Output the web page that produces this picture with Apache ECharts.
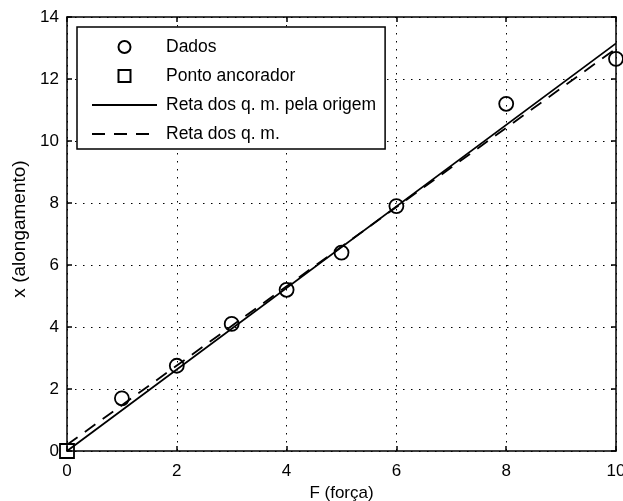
<!DOCTYPE html>
<html>
<head>
<meta charset="utf-8">
<script src="https://cdn.jsdelivr.net/npm/echarts@6/dist/echarts.min.js"></script>
<style>
  html, body { margin: 0; padding: 0; background: #fff; }
  #chart { width: 623px; height: 501px; }
</style>
</head>
<body>
<div id="chart"></div>
<script>
// measured points
var forceValues = [1, 2, 3, 4, 5, 6, 8, 10];
var stretchValues = [1.7, 2.75, 4.1, 5.2, 6.4, 7.9, 11.2, 12.65];
var anchorPoint = [[0, 0]];
// fitted lines at both ends
var fitOriginLine = [[0, 0], [10, 13.15]];
var fitLine = [[0, 0.2], [10, 12.98]];
var xTicks = [0, 2, 4, 6, 8, 10];
var yTicks = [0, 2, 4, 6, 8, 10, 12, 14];

var FONT = 'Liberation Sans';
var FS = 17;
var dataPoints = forceValues.map(function (f, i) { return [f, stretchValues[i]]; });

var chart = echarts.init(document.getElementById('chart'));

var dotted = { show: true, lineStyle: { color: '#000', width: 1, type: [1.5, 6.5] } };
var frame = { show: true, onZero: false, lineStyle: { color: '#000', width: 1.5 } };
var ticks = { show: true, inside: true, length: 5, lineStyle: { color: '#000', width: 1.5 } };

chart.setOption({
  animation: false,
  backgroundColor: '#fff',
  textStyle: { fontFamily: FONT },
  grid: { left: 67, right: 7, top: 17, bottom: 50, containLabel: false, outerBoundsMode: 'none' },
  legend: {
    orient: 'vertical',
    left: 77, top: 27,
    backgroundColor: '#fff',
    borderColor: '#000',
    borderWidth: 1.5,
    borderRadius: 0,
    padding: [11, 9, 6, 14],
    itemWidth: 65,
    itemHeight: 15,
    itemGap: 11,
    textStyle: { fontFamily: FONT, fontSize: 17.5, lineHeight: 18, color: '#000', padding: [0, 0, 0, 4] },
    data: [
      'Dados',
      'Ponto ancorador',
      { name: 'Reta dos q. m. pela origem', itemStyle: { opacity: 0 } },
      { name: 'Reta dos q. m.', itemStyle: { opacity: 0 } }
    ]
  },
  xAxis: [{
    type: 'value', min: 0, max: 10, interval: 2,
    name: 'F (força)', nameLocation: 'middle', nameGap: 33,
    nameTextStyle: { fontFamily: FONT, fontSize: FS, color: '#000' },
    axisLine: frame, axisTick: ticks,
    axisLabel: { fontFamily: FONT, fontSize: FS, color: '#000', margin: 12 },
    splitLine: dotted
  }, {
    type: 'value', min: 0, max: 10, interval: 2, position: 'top',
    axisLine: frame, axisTick: ticks,
    axisLabel: { show: false },
    splitLine: { show: false }
  }],
  yAxis: [{
    type: 'value', min: 0, max: 14, interval: 2,
    name: 'x (alongamento)', nameLocation: 'middle', nameGap: 35, nameRotate: 90,
    nameTextStyle: { fontFamily: FONT, fontSize: 19, color: '#000', padding: [0, 0, 0, 10] },
    axisLine: frame, axisTick: ticks,
    axisLabel: { fontFamily: FONT, fontSize: FS, color: '#000', margin: 8 },
    splitLine: dotted
  }, {
    type: 'value', min: 0, max: 14, interval: 2, position: 'right',
    axisLine: frame, axisTick: ticks,
    axisLabel: { show: false },
    splitLine: { show: false }
  }],
  series: [{
    name: 'Dados', type: 'line', data: dataPoints,
    symbol: 'circle', symbolSize: 14, clip: false, z: 5,
    itemStyle: { color: 'transparent', borderColor: '#000', borderWidth: 1.8 },
    lineStyle: { opacity: 0 }
  }, {
    name: 'Ponto ancorador', type: 'line', data: anchorPoint,
    symbol: 'rect', symbolSize: 14, clip: false, z: 5,
    itemStyle: { color: 'transparent', borderColor: '#000', borderWidth: 1.8 },
    lineStyle: { opacity: 0 }
  }, {
    name: 'Reta dos q. m. pela origem', type: 'line', data: fitOriginLine,
    showSymbol: false, clip: false,
    itemStyle: { color: '#000' },
    lineStyle: { color: '#000', width: 1.8 }
  }, {
    name: 'Reta dos q. m.', type: 'line', data: fitLine,
    showSymbol: false, clip: false,
    itemStyle: { color: '#000' },
    lineStyle: { color: '#000', width: 1.8, type: [13, 9] }
  }]
});
</script>
</body>
</html>
